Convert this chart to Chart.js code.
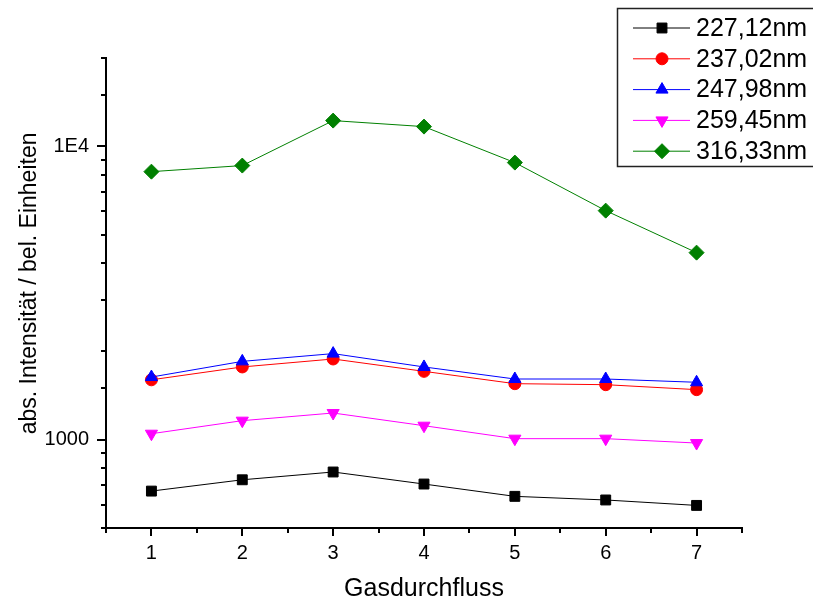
<!DOCTYPE html>
<html>
<head>
<meta charset="utf-8">
<script src="https://cdn.jsdelivr.net/npm/chart.js"></script>
<style>
  body { margin: 0; background: #fff; }
  canvas { display: block; }
</style>
</head>
<body>
<canvas id="chart" width="813" height="605"></canvas>
<script>
const flow = [1, 2, 3, 4, 5, 6, 7];
const labels = ['227,12nm', '237,02nm', '247,98nm', '259,45nm', '316,33nm'];
const s227 = [668, 730, 776, 706, 641, 623, 597];
const s237 = [1600, 1770, 1884, 1710, 1552, 1540, 1481];
const s248 = [1635, 1849, 1965, 1770, 1610, 1610, 1569];
const s259 = [1048, 1161, 1233, 1116, 1008, 1008, 974];
const s316 = [8196, 8597, 12236, 11672, 8800, 6036, 4341];

const seriesValues = [s227, s237, s248, s259, s316];
const colors = ['#000000', '#ff0000', '#0000ff', '#ff00ff', '#008000'];
const styles = ['rect', 'circle', 'triangle', 'triangle', 'rectRot'];
const rotations = [0, 0, 0, 180, 0];
const radii = [7, 6, 7, 7, 7.5];

const FONT = 'Arial, "Liberation Sans", sans-serif';

const datasets = seriesValues.map((vals, i) => ({
    label: labels[i],
    data: vals.map((v, j) => ({ x: flow[j], y: v })),
    borderColor: colors[i],
    backgroundColor: colors[i],
    borderWidth: 1,
    pointStyle: styles[i],
    pointRotation: rotations[i],
    pointRadius: radii[i],
    pointBorderWidth: 1,
    order: seriesValues.length - 1 - i
}));

// tick marks: long at labelled values, short for the minor ones
const tickMarks = {
    id: 'tickMarks',
    afterDraw(chart) {
        const ctx = chart.ctx;
        const xs = chart.scales.x, ys = chart.scales.y;
        ctx.save();
        ctx.strokeStyle = '#000';
        ctx.lineWidth = 2;
        ctx.beginPath();
        ys.ticks.forEach(t => {
            const y = Math.round(ys.getPixelForValue(t.value));
            const len = (t.value === 1000 || t.value === 10000) ? 9 : 5;
            ctx.moveTo(ys.right, y);
            ctx.lineTo(ys.right - len, y);
        });
        xs.ticks.forEach(t => {
            const x = Math.round(xs.getPixelForValue(t.value));
            const len = Number.isInteger(t.value) ? 8 : 5;
            ctx.moveTo(x, xs.top);
            ctx.lineTo(x, xs.top + len);
        });
        ctx.stroke();
        ctx.restore();
    }
};

// legend box in the top right corner, in Origin style
const boxLegend = {
    id: 'boxLegend',
    afterDraw(chart) {
        const ctx = chart.ctx;
        ctx.save();
        ctx.strokeStyle = '#222';
        ctx.lineWidth = 1.5;
        ctx.strokeRect(617.5, 8.5, 220, 158);
        ctx.font = '25px ' + FONT;
        ctx.textBaseline = 'middle';
        chart.data.datasets.forEach((ds, i) => {
            const y = 28 + i * 30.8;
            ctx.strokeStyle = ds.borderColor;
            ctx.fillStyle = ds.borderColor;
            ctx.lineWidth = 1;
            ctx.beginPath();
            ctx.moveTo(633, y);
            ctx.lineTo(690, y);
            ctx.stroke();
            Chart.helpers.drawPoint(ctx, {
                pointStyle: ds.pointStyle,
                rotation: ds.pointRotation,
                radius: ds.pointRadius,
                borderWidth: 1
            }, 662, y);
            ctx.fillStyle = '#000';
            ctx.fillText(ds.label, 696, y + 1);
        });
        ctx.restore();
    }
};

new Chart(document.getElementById('chart'), {
    type: 'line',
    data: { datasets: datasets },
    plugins: [tickMarks, boxLegend],
    options: {
        responsive: false,
        animation: false,
        layout: { padding: { left: 0, top: 58, right: 71, bottom: 0 } },
        plugins: {
            legend: { display: false },
            tooltip: { enabled: false }
        },
        scales: {
            x: {
                type: 'linear',
                min: 0.5,
                max: 7.5,
                afterFit: s => { s.height = 77; },
                border: { display: true, color: '#000', width: 2 },
                grid: { display: false, drawTicks: true, tickLength: 8 },
                ticks: {
                    stepSize: 0.5,
                    autoSkip: false,
                    maxRotation: 0,
                    padding: 5,
                    color: '#000',
                    font: { family: FONT, size: 20 },
                    callback: v => Number.isInteger(v) ? String(v) : ''
                },
                title: {
                    display: true,
                    text: 'Gasdurchfluss',
                    color: '#000',
                    font: { family: FONT, size: 25 },
                    padding: { top: 0, bottom: 1 }
                }
            },
            y: {
                type: 'logarithmic',
                min: 500,
                max: 20000,
                afterFit: s => { s.width = 106; },
                border: { display: true, color: '#000', width: 2 },
                grid: { display: false, drawTicks: true, tickLength: 9 },
                ticks: {
                    autoSkip: false,
                    padding: 8,
                    color: '#000',
                    font: { family: FONT, size: 20 },
                    callback: v => v === 1000 ? '1000' : (v === 10000 ? '1E4' : '')
                },
                title: {
                    display: true,
                    // leading spaces lift the centred title a little, as in the original
                    text: '   abs. Intensität / bel. Einheiten',
                    color: '#000',
                    font: { family: FONT, size: 23 },
                    padding: { top: 16, bottom: 0 }
                }
            }
        }
    }
});
</script>
</body>
</html>
